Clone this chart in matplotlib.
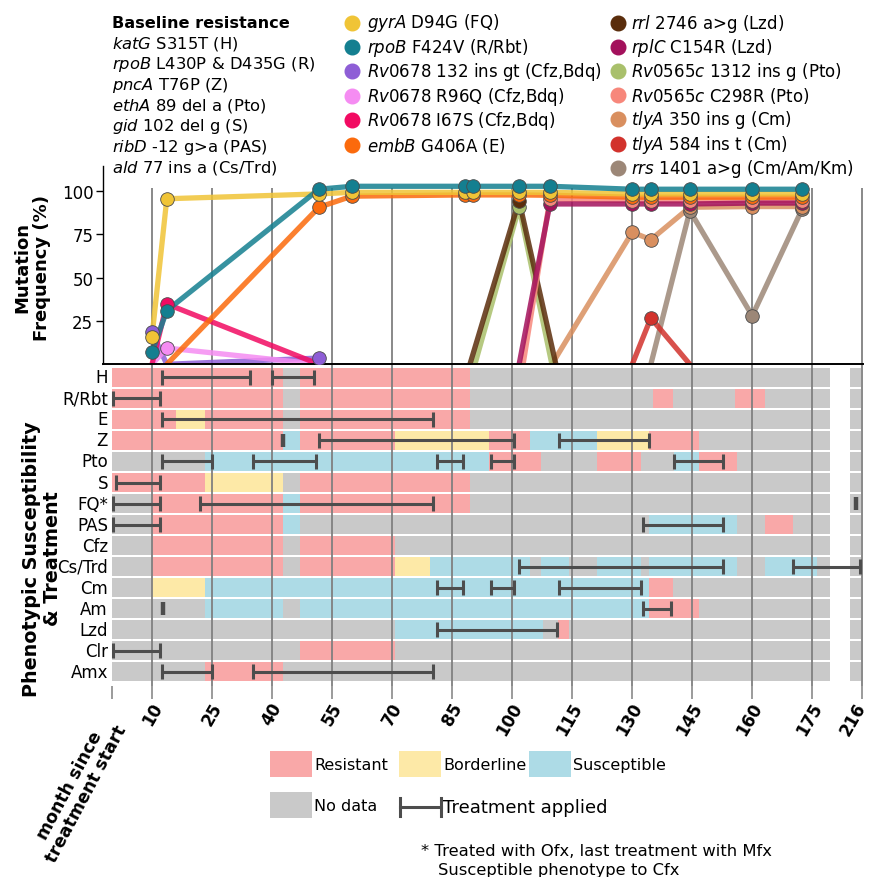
import numpy as np
import matplotlib
matplotlib.use("Agg")
import matplotlib.pyplot as plt
import matplotlib.transforms as mtransforms
from matplotlib.patches import Rectangle
from matplotlib.lines import Line2D

W, H, DPI = 871, 878, 100

# ---------------------------------------------------------------- data
drugs = ['H', 'R/Rbt', 'E', 'Z', 'Pto', 'S', 'FQ*', 'PAS', 'Cfz', 'Cs/Trd',
         'Cm', 'Am', 'Lzd', 'Clr', 'Amx']
xtick_months = [0, 10, 25, 40, 55, 70, 85, 100, 115, 130, 145, 160, 175, 216]
xtick_labels = ['', '10', '25', '40', '55', '70', '85', '100', '115', '130',
                '145', '160', '175', '216']
grid_months = [10, 25, 40, 55, 70, 85, 100, 115, 130, 145, 160, 175, 216]
ytick_values = [25, 50, 75, 100]

# mutation frequency (%) over months since treatment start, per mutation
gyrA_months = [10, 13.7, 51.75, 60, 88.25, 90.3, 101.8, 109.5, 130.1, 134.75, 144.5, 160.1, 172.6]
gyrA_freq = [15.8, 95.5, 98.3, 99.2, 99.2, 99.2, 99.2, 99.2, 98.3, 98.3, 98.3, 98.3, 98.3]
rpoB_months = [10, 13.7, 51.75, 60, 88.25, 90.3, 101.8, 109.5, 130.1, 134.75, 144.5, 160.1, 172.6]
rpoB_freq = [6.9, 31, 101, 102.7, 102.7, 102.7, 102.7, 102.7, 101, 101, 101, 101, 101]
Rv0678_132_months = [10, 13.7, 51.75]
Rv0678_132_freq = [18.5, 0, 3.6]
Rv0678_R96Q_months = [10, 13.7, 51.75]
Rv0678_R96Q_freq = [0, 9.4, 0]
Rv0678_I67S_months = [10, 13.7, 51.75]
Rv0678_I67S_freq = [0, 34.8, 0]
embB_months = [13.7, 51.75, 60, 88.25, 90.3, 101.8, 109.5, 130.1, 134.75, 144.5, 160.1, 172.6]
embB_freq = [0, 90.6, 97, 97.7, 97.7, 97.7, 97.5, 96.4, 96.4, 96.4, 96.4, 96.4]
rrl_months = [89.5, 101.8, 111]
rrl_freq = [0, 94.4, 0]
rplC_months = [101.8, 109.5, 130.1, 134.75, 144.5, 160.1, 172.6]
rplC_freq = [0, 92.5, 92.5, 92.5, 92.5, 93, 93]
Rv0565c_1312_months = [90.75, 101.8, 110]
Rv0565c_1312_freq = [0, 90.6, 0]
Rv0565c_C298R_months = [102.8, 109.5, 130.1, 134.75, 144.5, 160.1, 172.6]
Rv0565c_C298R_freq = [0, 95.4, 94.4, 94.4, 94.4, 94.4, 94.4]
tlyA_350_months = [110, 130.1, 134.75, 144.5, 160.1, 172.6]
tlyA_350_freq = [0, 76.2, 71.9, 90.6, 91, 91]
tlyA_584_months = [130.1, 134.75, 144.5]
tlyA_584_freq = [0, 26.7, 0]
rrs_months = [134.75, 144.5, 160.1, 172.6]
rrs_freq = [0, 88.6, 28, 89.6]

mutation_months = [gyrA_months, rpoB_months, Rv0678_132_months, Rv0678_R96Q_months,
                   Rv0678_I67S_months, embB_months, rrl_months, rplC_months,
                   Rv0565c_1312_months, Rv0565c_C298R_months, tlyA_350_months,
                   tlyA_584_months, rrs_months]
mutation_freq = [gyrA_freq, rpoB_freq, Rv0678_132_freq, Rv0678_R96Q_freq, Rv0678_I67S_freq,
                 embB_freq, rrl_freq, rplC_freq, Rv0565c_1312_freq, Rv0565c_C298R_freq,
                 tlyA_350_freq, tlyA_584_freq, rrs_freq]
mutation_gene = ['gyrA', 'rpoB', 'Rv0678', 'Rv0678', 'Rv0678', 'embB', 'rrl', 'rplC',
                 'Rv0565c', 'Rv0565c', 'tlyA', 'tlyA', 'rrs']
mutation_rest = ['D94G (FQ)', 'F424V (R/Rbt)', '132 ins gt (Cfz,Bdq)', 'R96Q (Cfz,Bdq)',
                 'I67S (Cfz,Bdq)', 'G406A (E)', '2746 a>g (Lzd)', 'C154R (Lzd)',
                 '1312 ins g (Pto)', 'C298R (Pto)', '350 ins g (Cm)', '584 ins t (Cm)',
                 '1401 a>g (Cm/Am/Km)']
mutation_colors = ['#F0C436', '#147F90', '#8E5ED6', '#F58CF2', '#F20A62', '#FB6A0C',
                   '#5A2D0C', '#A3115C', '#A9C06B', '#F7877B', '#D98F5F', '#D2322C',
                   '#9C8777']
line_order = [2, 3, 4, 12, 11, 10, 8, 6, 9, 7, 5, 0, 1]
marker_order = [2, 3, 4, 12, 11, 10, 8, 6, 7, 9, 5, 0, 1]

baseline_gene = ['katG', 'rpoB', 'pncA', 'ethA', 'gid', 'ribD', 'ald']
baseline_rest = ['S315T (H)', 'L430P & D435G (R)', 'T76P (Z)', '89 del a (Pto)',
                 '102 del g (S)', '-12 g>a (PAS)', '77 ins a (Cs/Trd)']

# phenotype segments per drug: (start month, end month, R/B/S/N)
pheno_H = [(0, 42.75, 'R'), (42.75, 47, 'N'), (47, 89.5, 'R'), (89.5, 179.5, 'N')]
pheno_R = [(0, 42.75, 'R'), (42.75, 47, 'N'), (47, 89.5, 'R'), (89.5, 135.2, 'N'),
           (135.2, 140.2, 'R'), (140.2, 155.7, 'N'), (155.7, 163.4, 'R'), (163.4, 179.5, 'N')]
pheno_E = [(0, 16, 'R'), (16, 23.3, 'B'), (23.3, 42.75, 'R'), (42.75, 47, 'N'),
           (47, 89.5, 'R'), (89.5, 179.5, 'N')]
pheno_Z = [(0, 42.75, 'R'), (42.75, 47, 'S'), (47, 70.75, 'R'), (70.75, 94.25, 'B'),
           (94.25, 104.5, 'R'), (104.5, 121.4, 'S'), (121.4, 134.25, 'B'),
           (134.25, 146.75, 'R'), (146.75, 179.5, 'N')]
pheno_Pto = [(0, 23.3, 'N'), (23.3, 94.25, 'S'), (94.25, 107.3, 'R'), (107.3, 121.4, 'N'),
             (121.4, 132.2, 'R'), (132.2, 140.5, 'N'), (140.5, 146.8, 'S'),
             (146.8, 156.3, 'R'), (156.3, 179.5, 'N')]
pheno_S = [(0, 23.3, 'R'), (23.3, 42.75, 'B'), (42.75, 47, 'N'), (47, 89.5, 'R'),
           (89.5, 179.5, 'N')]
pheno_FQ = [(0, 10, 'N'), (10, 42.75, 'R'), (42.75, 47, 'S'), (47, 89.5, 'R'),
            (89.5, 179.5, 'N')]
pheno_PAS = [(0, 10, 'N'), (10, 42.75, 'R'), (42.75, 47, 'S'), (47, 134.25, 'N'),
             (134.25, 156.3, 'S'), (156.3, 163.25, 'N'), (163.25, 170.2, 'R'),
             (170.2, 179.5, 'N')]
pheno_Cfz = [(0, 10, 'N'), (10, 42.75, 'R'), (42.75, 47, 'N'), (47, 70.75, 'R'),
             (70.75, 179.5, 'N')]
pheno_Cs = [(0, 10, 'N'), (10, 42.75, 'R'), (42.75, 47, 'N'), (47, 70.75, 'R'),
            (70.75, 79.5, 'B'), (79.5, 104.5, 'S'), (104.5, 107.4, 'N'), (107.4, 114.3, 'S'),
            (114.3, 121.4, 'N'), (121.4, 132.2, 'S'), (132.2, 134.25, 'N'),
            (134.25, 156.3, 'S'), (156.3, 163.25, 'N'), (163.25, 176.3, 'S'),
            (176.3, 179.5, 'N')]
pheno_Cm = [(0, 10, 'N'), (10, 23.3, 'B'), (23.3, 134.25, 'S'), (134.25, 140.2, 'R'),
            (140.2, 179.5, 'N')]
pheno_Am = [(0, 23.3, 'N'), (23.3, 42.75, 'S'), (42.75, 47, 'N'), (47, 134.25, 'S'),
            (134.25, 146.8, 'R'), (146.8, 179.5, 'N')]
pheno_Lzd = [(0, 70.75, 'N'), (70.75, 107.8, 'S'), (107.8, 111.6, 'N'),
             (111.6, 114.3, 'R'), (114.3, 179.5, 'N')]
pheno_Clr = [(0, 47, 'N'), (47, 70.75, 'R'), (70.75, 179.5, 'N')]
pheno_Amx = [(0, 23.3, 'N'), (23.3, 42.75, 'R'), (42.75, 179.5, 'N')]
late_segment = (213, 215.7, 'N')

# treatment periods per drug (start month, end month)
treat_H = [(12.6, 34.4), (40, 50.4)]
treat_R = [(0.3, 12.1)]
treat_E = [(12.6, 80.25)]
treat_Z = [(42.75, 42.75), (51.7, 100.6), (111.9, 134.25)]
treat_Pto = [(12.6, 25.1), (35.25, 51), (81.2, 87.7), (94.9, 100.6), (140.5, 152.75)]
treat_S = [(0.9, 12.1)]
treat_FQ = [(0.3, 12.1), (21.9, 80.25), (214.6, 214.6)]
treat_PAS = [(0.3, 12.1), (132.8, 152.8)]
treat_Cfz = []
treat_Cs = [(101.8, 152.8), (170.2, 215.5)]
treat_Cm = [(81.2, 87.7), (94.9, 100.6), (111.9, 132.2)]
treat_Am = [(12.8, 12.8), (132.8, 139.9)]
treat_Lzd = [(81.2, 111.3)]
treat_Clr = [(0.3, 12.1)]
treat_Amx = [(12.6, 25.1), (35.25, 80.25)]

pheno_rows = [pheno_H, pheno_R, pheno_E, pheno_Z, pheno_Pto, pheno_S, pheno_FQ, pheno_PAS,
              pheno_Cfz, pheno_Cs, pheno_Cm, pheno_Am, pheno_Lzd, pheno_Clr, pheno_Amx]
treat_rows = [treat_H, treat_R, treat_E, treat_Z, treat_Pto, treat_S, treat_FQ, treat_PAS,
              treat_Cfz, treat_Cs, treat_Cm, treat_Am, treat_Lzd, treat_Clr, treat_Amx]

pheno_colors = {'R': '#F9A8A8', 'B': '#FDE9A7', 'S': '#ADDBE6', 'N': '#C9C9C9'}
legend_labels = ['Resistant', 'Borderline', 'Susceptible', 'No data']

# ---------------------------------------------------------------- helpers
BREAK_SHIFT = 28.5


def xpos(m):
    m = np.asarray(m, dtype=float)
    return np.where(m > 195, m - BREAK_SHIFT, m)


def fx(px):
    return px / W


def fy(py):
    return 1 - py / H


plt.rcParams['font.family'] = ['DejaVu Sans']
plt.rcParams['mathtext.fontset'] = 'dejavusans'

fig = plt.figure(figsize=(W / DPI, H / DPI), dpi=DPI)
XL = (-2.25, 187.75)
GRID_C = '#808080'

# ---------------------------------------------------------------- top panel
ax1 = fig.add_axes([fx(103), fy(365.3), fx(862.8) - fx(103), (365.3 - 167) / H])
ax1.set_xlim(*XL)
ax1.set_ylim(0, 114.4)
for s in ['top', 'right']:
    ax1.spines[s].set_visible(False)
ax1.spines['left'].set_linewidth(1.0)
ax1.spines['bottom'].set_linewidth(1.4)
ax1.set_xticks([])
ax1.set_yticks(ytick_values)
ax1.set_yticklabels([str(v) for v in ytick_values], fontsize=12)
ax1.tick_params(axis='y', length=5, width=1.0, pad=2)
ax1.vlines(xpos(grid_months), 0, 101.7, color=GRID_C, lw=1.3, zorder=1)

for k, idx in enumerate(line_order):
    ax1.plot(xpos(mutation_months[idx]), mutation_freq[idx], color=mutation_colors[idx],
             lw=3.8, alpha=0.85, solid_capstyle='butt', zorder=2 + k * 0.01)
for k, idx in enumerate(marker_order):
    tt = xpos(mutation_months[idx])
    vals = np.array(mutation_freq[idx], dtype=float)
    pos = vals > 0
    ax1.plot(tt[pos], vals[pos], ls='none', marker='o', ms=9.8,
             mfc=mutation_colors[idx], mec='#4a4a4a', mew=0.6, zorder=3 + k * 0.01,
             clip_on=False)

fig.text(fx(32), fy(268), 'Mutation\nFrequency (%)', rotation=90, ha='center',
         va='center', fontsize=13, fontweight='bold', linespacing=1.15)

# ---------------------------------------------------------------- heatmap panel
ax2 = fig.add_axes([fx(103), fy(687), fx(862.8) - fx(103), (687 - 366) / H])
ax2.set_xlim(*XL)
ax2.set_ylim(14.69, -0.595)
for s in ax2.spines.values():
    s.set_visible(False)
ax2.set_yticks([])
BAR_H = 0.9
for i, segs in enumerate(pheno_rows):
    for (a, b, code) in segs + [late_segment]:
        pa, pb = xpos(a), xpos(b)
        ax2.barh(i, pb - pa, left=pa, height=BAR_H, color=pheno_colors[code],
                 lw=0, zorder=1)
    ax2.text(-1.0, i, drugs[i], ha='right', va='center', fontsize=12)

ax2.vlines(xpos(grid_months), -0.595, 14.69, color=GRID_C, lw=1.3, zorder=2)

TC = '#4D4D4D'
for i, trs in enumerate(treat_rows):
    for (a, b) in trs:
        pa, pb = float(xpos(a)), float(xpos(b))
        if pa == pb:
            ax2.vlines(pa, i - 0.3, i + 0.3, color=TC, lw=3.2, zorder=3)
        else:
            ax2.hlines(i, pa, pb, color=TC, lw=2.2, zorder=3)
            ax2.vlines([pa, pb], i - 0.36, i + 0.36, color=TC, lw=2.2, zorder=3)

ax2.set_xticks(xpos(xtick_months))
ax2.set_xticklabels(xtick_labels, fontsize=12, fontweight='bold')
ax2.tick_params(axis='x', length=9.5, width=1.1, color=GRID_C, pad=3)
labels = ax2.get_xticklabels()
for j, lab in enumerate(labels):
    lab.set_rotation(60)
    lab.set_ha('right')
    lab.set_va('center')
    lab.set_rotation_mode('anchor')
    dx = 6 if j < len(labels) - 1 else 0
    lab.set_transform(lab.get_transform() +
                      mtransforms.ScaledTranslation(dx / DPI, 0, fig.dpi_scale_trans))

fig.text(fx(42), fy(559), 'Phenotypic Susceptibility\n& Treatment', rotation=90,
         ha='center', va='center', fontsize=13.8, fontweight='bold', linespacing=1.15)
fig.text(fx(78), fy(790), 'month since\ntreatment start', rotation=62, ha='center',
         va='center', fontsize=12.5, fontweight='bold', linespacing=1.1)

# ---------------------------------------------------------------- top legends
LFS = 12
fig.text(fx(112), fy(23), 'Baseline resistance', fontsize=11.6, fontweight='bold',
         ha='left', va='center')
for k, (g, r) in enumerate(zip(baseline_gene, baseline_rest)):
    fig.text(fx(112), fy(43.7 + 20.7 * k), r'$\mathit{%s}$ %s' % (g, r), fontsize=11.8,
             ha='left', va='center')

for k in range(13):
    if k < 6:
        mx, tx, yy = 352, 367, 23.5 + 24.4 * k
    else:
        mx, tx, yy = 618, 631, 24 + 24.1 * (k - 6)
    fig.add_artist(Line2D([fx(mx)], [fy(yy)], marker='o', ms=10.5, ls='none',
                          color=mutation_colors[k], transform=fig.transFigure))
    fig.text(fx(tx), fy(yy), r'$\mathit{%s}$ %s' % (mutation_gene[k], mutation_rest[k]),
             fontsize=LFS, ha='left', va='center')

# ---------------------------------------------------------------- bottom legend
leg_boxes = [(270, 752), (399, 752), (529, 752), (270, 793)]
leg_codes = ['R', 'B', 'S', 'N']
for (bx, by), code, lab in zip(leg_boxes, leg_codes, legend_labels):
    fig.add_artist(Rectangle((fx(bx), fy(by + 26)), 42 / W, 26 / H,
                             transform=fig.transFigure, color=pheno_colors[code], lw=0))
    fig.text(fx(bx + 44), fy(by + 14), lab, fontsize=11.5, ha='left', va='center')

fig.add_artist(Line2D([fx(400), fx(441)], [fy(808), fy(808)], color=TC, lw=2.2,
                      transform=fig.transFigure))
for xx in (400, 441):
    fig.add_artist(Line2D([fx(xx), fx(xx)], [fy(799), fy(817)], color=TC, lw=2.2,
                          transform=fig.transFigure))
fig.text(fx(443), fy(808), 'Treatment applied', fontsize=13, ha='left', va='center')
fig.text(fx(421), fy(852), '* Treated with Ofx, last treatment with Mfx',
         fontsize=11.8, ha='left', va='center')
fig.text(fx(438), fy(871), 'Susceptible phenotype to Cfx', fontsize=11.8,
         ha='left', va='center')

fig.savefig('out.png', dpi=DPI)
